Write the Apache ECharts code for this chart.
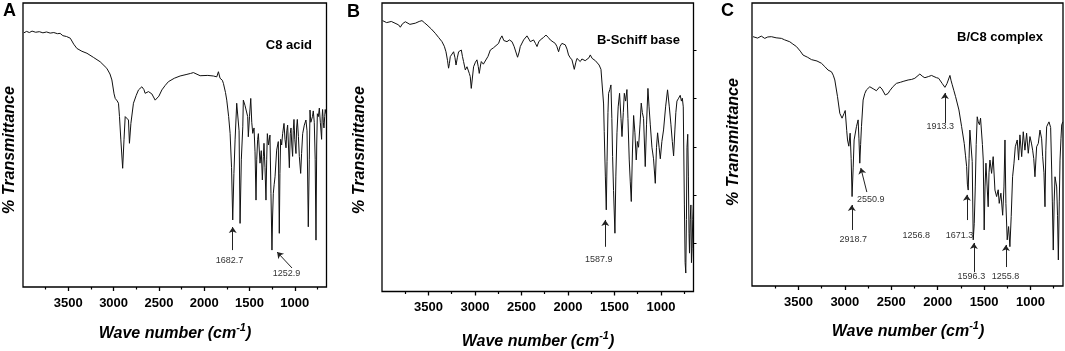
<!DOCTYPE html>
<html>
<head>
<meta charset="utf-8">
<script src="https://cdn.jsdelivr.net/npm/echarts@6/dist/echarts.min.js"></script>
<style>
  html, body { margin: 0; padding: 0; background: #fff; }
  #main { width: 1065px; height: 351px; }
</style>
</head>
<body>
<div id="main"></div>
<script>
// axis ticks (wave number, cm-1)
const wnMin = 650;
const wnMax = 4000;
const tickMajor = [3500, 3000, 2500, 2000, 1500, 1000];
const tickMinor = [3750, 3250, 2750, 2250, 1750, 1250, 750];
// right-hand ticks on panel B (transmittance %)
const tickRightB = [16.8, 33.4, 50.1, 67.1, 83.7];

// spectra: [wave number, % transmittance]
const specA = [[3990,89.5],[3960,90],[3930,89.6],[3900,90.1],[3860,89.7],[3820,89.9],[3780,89.5],[3740,89.8],[3700,89.4],[3660,89.6],[3620,89.2],[3590,89.3],[3560,88.5],[3520,88.2],[3478,87.6],[3440,85.5],[3405,84],[3350,83],[3294,82.3],[3220,80.8],[3148,79.3],[3075,77],[3040,75],[3019,72.9],[2995,68],[2982,66.4],[2960,65.5],[2946,64.7],[2935,60],[2920,51.8],[2900,41.8],[2885,52],[2872,60],[2853,60.6],[2836,58.8],[2825,50.6],[2809,57.6],[2781,64.7],[2750,67.5],[2725,69.4],[2688,70.5],[2665,69.5],[2652,68.2],[2615,68.8],[2578,68],[2541,65.8],[2523,65.6],[2500,67.2],[2467,69.4],[2430,71],[2395,72.3],[2330,73.5],[2266,74.3],[2200,74.8],[2150,75.2],[2119,75.5],[2100,74.8],[2045,74.4],[1960,74.5],[1899,74.3],[1861,74],[1843,75.8],[1825,73.5],[1800,72.8],[1788,71.7],[1765,68.5],[1751,65.8],[1730,60],[1714,54.1],[1698,42],[1685,23.6],[1672,40],[1659,51.8],[1641,64.7],[1630,64],[1615,55],[1604,22.4],[1590,45],[1574,56.4],[1568,65.8],[1550,64],[1531,63.5],[1520,60],[1513,52.9],[1500,60],[1486,66.4],[1475,58],[1464,54.1],[1450,56],[1439,47.6],[1428,30.6],[1420,45],[1410,52],[1402,54],[1384,43.6],[1370,48],[1358,37.7],[1347,46],[1340,50.6],[1329,42],[1318,30.6],[1310,45],[1303,54],[1290,50],[1274,53.5],[1263,33],[1252,13],[1245,25],[1237,33],[1228,36],[1218,38.8],[1200,48.2],[1182,51.2],[1171,18.9],[1164,40],[1156,52],[1145,50],[1134,54],[1119,57.6],[1108,52],[1097,49],[1088,55],[1079,57],[1070,50],[1060,42],[1050,54],[1042,56],[1033,50],[1024,46],[1017,55],[1009,59],[1000,52],[987,47],[980,56],[972,59],[960,53],[950,46],[935,40],[925,47],[913,54],[895,57],[877,58.8],[865,55],[851,21.2],[840,45],[832,62.3],[823,58],[814,57.5],[805,60],[796,62],[785,58],[775,45],[766,16.5],[758,50],[751,61],[740,60],[729,63],[718,58],[704,52],[698,60],[693,62.5],[685,58],[678,56],[670,60],[664,62.5],[655,61]];

const specB = [[3994,93.9],[3950,93.2],[3900,93.6],[3860,93],[3821,92.4],[3803,91.6],[3780,92.8],[3749,93.5],[3700,92.6],[3642,93],[3600,93.6],[3570,93.9],[3545,93.2],[3516,92.4],[3470,91],[3427,89.5],[3390,88],[3355,86.6],[3330,85],[3312,83.1],[3295,80],[3284,77.4],[3275,79],[3266,81.4],[3230,83.1],[3215,81],[3204,78.5],[3190,81],[3176,83.1],[3147,83.7],[3135,81.5],[3123,79.7],[3104,76.8],[3086,77.9],[3060,75.5],[3051,74.5],[3040,70.4],[3028,74],[3015,77.9],[2995,79.5],[2979,80.3],[2965,78],[2954,75.6],[2940,78.5],[2932,79.7],[2910,78.8],[2889,79.1],[2860,81.5],[2835,83.7],[2800,84.5],[2782,84.9],[2746,86],[2730,87.5],[2710,88.6],[2690,87],[2656,86.6],[2630,87.2],[2602,86.6],[2580,85],[2567,83.7],[2542,81.2],[2525,83],[2513,84.9],[2477,87.2],[2441,88.6],[2420,87.5],[2405,86.6],[2370,87.2],[2350,86],[2333,84.9],[2315,86.5],[2298,87.2],[2265,88],[2237,88.9],[2210,88],[2190,87.2],[2160,86.5],[2137,86],[2120,85],[2101,83.1],[2085,85],[2065,86],[2029,85.5],[2010,84],[1994,82],[1975,81],[1957,80.3],[1932,77],[1915,79.5],[1903,80.8],[1885,80.2],[1868,79.7],[1850,80.6],[1832,80.5],[1815,80],[1796,79.7],[1775,81],[1760,82],[1740,80.8],[1725,80.3],[1705,80],[1688,79.7],[1665,78.5],[1645,77],[1624,76.8],[1617,65],[1610,55.4],[1598,40],[1588,28.3],[1580,45],[1570,62],[1563,68.7],[1550,70],[1538,71.6],[1528,60],[1520,46.8],[1510,35],[1495,20.2],[1485,40],[1473,55],[1460,64],[1445,68.7],[1430,60],[1419,53.7],[1405,62],[1394,68.7],[1380,66],[1366,70],[1355,60],[1341,45.6],[1330,38],[1319,31.2],[1307,48],[1294,61],[1280,55],[1266,45.6],[1254,52],[1241,50],[1225,58],[1212,65.3],[1200,62],[1187,60],[1169,43.3],[1155,58],[1140,70.4],[1128,64],[1115,58],[1097,50],[1080,46],[1061,37.5],[1048,50],[1036,55],[1020,50],[1007,46],[990,52],[972,56],[950,64],[929,69.9],[910,64],[893,58],[878,52],[864,47],[850,56],[840,62],[828,66],[810,67],[793,68],[780,66],[770,67],[760,64],[748,30],[740,10],[733,6.4],[726,25],[720,50],[712,54.5],[705,40],[698,20],[693,13.3],[685,25],[678,30],[672,10],[665,15],[658,25],[652,30]];

const specC = [[3989,88.1],[3940,87.6],[3900,88.3],[3863,87.5],[3830,88],[3791,88.1],[3740,87.7],[3683,87.5],[3650,87],[3629,86.3],[3593,86.3],[3560,85.5],[3521,84.6],[3480,83],[3450,81.6],[3400,80.8],[3360,80],[3300,79.5],[3252,78.7],[3215,77.5],[3181,76.3],[3144,75.7],[3125,74.5],[3108,72.8],[3079,66.9],[3054,61],[3030,59.3],[3008,61],[2996,62],[2980,55],[2971,51.6],[2957,49.4],[2943,54],[2932,45],[2922,31.6],[2910,42],[2900,51.6],[2875,56.3],[2857,58.7],[2848,52],[2839,43.4],[2830,50],[2821,56.3],[2803,65.7],[2785,68],[2767,69.3],[2731,70.4],[2710,69.8],[2695,69.7],[2660,69],[2624,70.4],[2600,69.6],[2588,69],[2565,67.5],[2551,66.9],[2535,68],[2516,69],[2480,70.5],[2444,71.6],[2400,72],[2372,72.3],[2318,72.8],[2280,73],[2246,73.4],[2192,74.9],[2160,74],[2138,73.6],[2100,74],[2066,74.4],[2040,74],[2012,73.6],[1990,73.4],[1976,72.8],[1950,71.5],[1922,70.2],[1900,71.5],[1887,72.2],[1868,74.4],[1855,72.5],[1843,71.1],[1825,69],[1807,66.9],[1771,62.2],[1742,56.3],[1714,50.4],[1700,46],[1688,42.2],[1680,36],[1671,33.9],[1662,45],[1653,55.1],[1642,55.1],[1628,44],[1617,16.3],[1606,22],[1595,35],[1585,50],[1574,59.8],[1563,58],[1550,57],[1538,59.3],[1527,59.3],[1518,50],[1509,44.5],[1499,19.8],[1490,35],[1480,43.4],[1466,44],[1456,28],[1447,40],[1437,44.5],[1419,39.8],[1402,45.7],[1383,33.9],[1365,31.6],[1348,34],[1337,29.2],[1319,32.8],[1300,25],[1286,35],[1275,51.6],[1265,29.2],[1251,16.3],[1236,21],[1222,13.9],[1208,24.5],[1193,38.6],[1178,43.4],[1164,49.2],[1143,51.6],[1128,44.5],[1114,53.4],[1095,45.7],[1078,54.5],[1060,48],[1042,54],[1024,46.9],[1006,52.8],[990,50.5],[977,48],[965,45],[952,38.6],[934,49.2],[916,50.4],[898,55.1],[880,52],[869,45.7],[855,40],[844,28],[835,48],[826,56.3],[812,57],[801,58],[783,56],[772,41],[765,30],[755,12.7],[745,30],[736,38.6],[718,35],[709,25],[700,9.2],[690,30],[682,44.5],[672,52],[664,56.9],[652,58]];

// peak notes: [text, wave number, %T] and arrows [[from], [to]]
const notesA = [['1682.7', 1720, 9.5], ['1252.9', 1092, 4.6]];
const arrowsA = [[[1685, 13], [1685, 21.1]], [[1031, 6.7], [1195, 12.3]]];
const notesB = [['1587.9', 1669, 11]];
const arrowsB = [[[1599, 15.5], [1599, 24.8]]];
const notesC = [['2918.7', 2909, 16.6], ['2550.9', 2720, 30.4], ['1913.3', 1971, 56.2], ['1256.8', 2230, 18], ['1671.3', 1766, 17.7], ['1596.3', 1637, 3.5], ['1255.8', 1270, 3.5]];
const arrowsC = [[[2925, 19.8], [2925, 28.6]], [[2763, 33.2], [2828, 41.7]], [[1922, 57.6], [1922, 68.2]], [[1685, 23.3], [1685, 32.2]], [[1610, 4.9], [1610, 15.2]], [[1265, 6.7], [1265, 14.5]]];

const panelNames = ['C8 acid', 'B-Schiff base', 'B/C8 complex'];

const FONT = '"Liberation Sans", Arial, sans-serif';

function xMajor(g) {
  return {
    type: 'value', gridIndex: g, position: 'bottom', min: wnMin, max: wnMax, inverse: true,
    axisLine: { show: false }, splitLine: { show: false },
    axisTick: { show: true, customValues: tickMajor, length: 4, lineStyle: { color: '#000', width: 1.3 } },
    axisLabel: {
      show: true, customValues: tickMajor, margin: 9.5, color: '#000',
      fontSize: 13, fontWeight: 'bold', fontFamily: FONT,
      formatter: v => String(v)
    }
  };
}
function xMinor(g) {
  return {
    type: 'value', gridIndex: g, position: 'bottom', min: wnMin, max: wnMax, inverse: true,
    axisLine: { show: false }, splitLine: { show: false }, axisLabel: { show: false },
    axisTick: { show: true, customValues: tickMinor, length: 2.5, lineStyle: { color: '#000', width: 1.2 } }
  };
}
function yPlain(g) {
  return { type: 'value', gridIndex: g, min: 0, max: 100, axisLine: { show: false }, axisTick: { show: false }, axisLabel: { show: false }, splitLine: { show: false } };
}

function spectrum(xi, yi, data, notes, arrows) {
  return {
    type: 'line', xAxisIndex: xi, yAxisIndex: yi, data: data,
    symbol: 'none', showSymbol: false, smooth: false,
    lineStyle: { color: '#111', width: 1 },
    emphasis: { disabled: true },
    markLine: {
      silent: true, symbol: ['none', 'arrow'], symbolSize: 6,
      label: { show: false },
      lineStyle: { color: '#222', width: 1, type: 'solid' },
      emphasis: { disabled: true },
      data: arrows.map(a => [{ coord: a[0] }, { coord: a[1] }])
    },
    markPoint: {
      silent: true, symbol: 'rect', symbolSize: 1,
      itemStyle: { color: 'rgba(0,0,0,0)' },
      label: { show: true, position: 'inside', formatter: '{b}', color: '#333', fontSize: 9, fontFamily: FONT },
      data: notes.map(n => ({ name: n[0], coord: [n[1], n[2]] }))
    }
  };
}

const boldText = { fontFamily: FONT, fontWeight: 'bold', fill: '#000' };
function letter(t, x, y) {
  return { type: 'text', x: x, y: y, style: Object.assign({ text: t, fontSize: 18, align: 'left', verticalAlign: 'middle' }, boldText) };
}
function yTitle(x, y) {
  return { type: 'text', x: x, y: y, rotation: Math.PI / 2,
    style: Object.assign({ text: '% Transmittance', fontSize: 16, fontStyle: 'italic', align: 'center', verticalAlign: 'middle' }, boldText) };
}
function xTitle(x, y) {
  return { type: 'text', x: x, y: y,
    style: {
      text: '{m|Wave number (cm}{s|-1}{m|)}', align: 'center', verticalAlign: 'middle', fill: '#000',
      rich: {
        m: { fontFamily: FONT, fontWeight: 'bold', fontStyle: 'italic', fontSize: 16, lineHeight: 20, verticalAlign: 'bottom' },
        s: { fontFamily: FONT, fontWeight: 'bold', fontStyle: 'italic', fontSize: 11, lineHeight: 20, verticalAlign: 'top' }
      }
    } };
}
function inner(t, x, y) {
  return { type: 'text', x: x, y: y, style: Object.assign({ text: t, fontSize: 13, align: 'right', verticalAlign: 'middle' }, boldText) };
}

const chart = echarts.init(document.getElementById('main'), null, { renderer: 'canvas' });
chart.setOption({
  animation: false,
  backgroundColor: '#fff',
  grid: [
    { left: 23, top: 3, width: 303.5, height: 284, show: true, borderColor: '#000', borderWidth: 1.3 },
    { left: 382, top: 3, width: 311.5, height: 288.5, show: true, borderColor: '#000', borderWidth: 1.3 },
    { left: 752, top: 3, width: 311, height: 283, show: true, borderColor: '#000', borderWidth: 1.3 }
  ],
  xAxis: [xMajor(0), xMinor(0), xMajor(1), xMinor(1), xMajor(2), xMinor(2)],
  yAxis: [
    yPlain(0), yPlain(1), yPlain(2),
    {
      type: 'value', gridIndex: 1, position: 'right', min: 0, max: 100,
      axisLine: { show: false }, axisLabel: { show: false }, splitLine: { show: false },
      axisTick: { show: true, customValues: tickRightB, length: 3, lineStyle: { color: '#000', width: 1 } }
    }
  ],
  series: [
    spectrum(0, 0, specA, notesA, arrowsA),
    spectrum(2, 1, specB, notesB, arrowsB),
    spectrum(4, 2, specC, notesC, arrowsC)
  ],
  graphic: [
    letter('A', 3, 11), letter('B', 347, 12.5), letter('C', 721, 11),
    yTitle(10, 150), yTitle(360, 150), yTitle(734, 142),
    xTitle(175, 332), xTitle(538, 340), xTitle(908, 330),
    inner(panelNames[0], 312, 45), inner(panelNames[1], 680, 40), inner(panelNames[2], 1043, 37)
  ]
});
</script>
</body>
</html>
